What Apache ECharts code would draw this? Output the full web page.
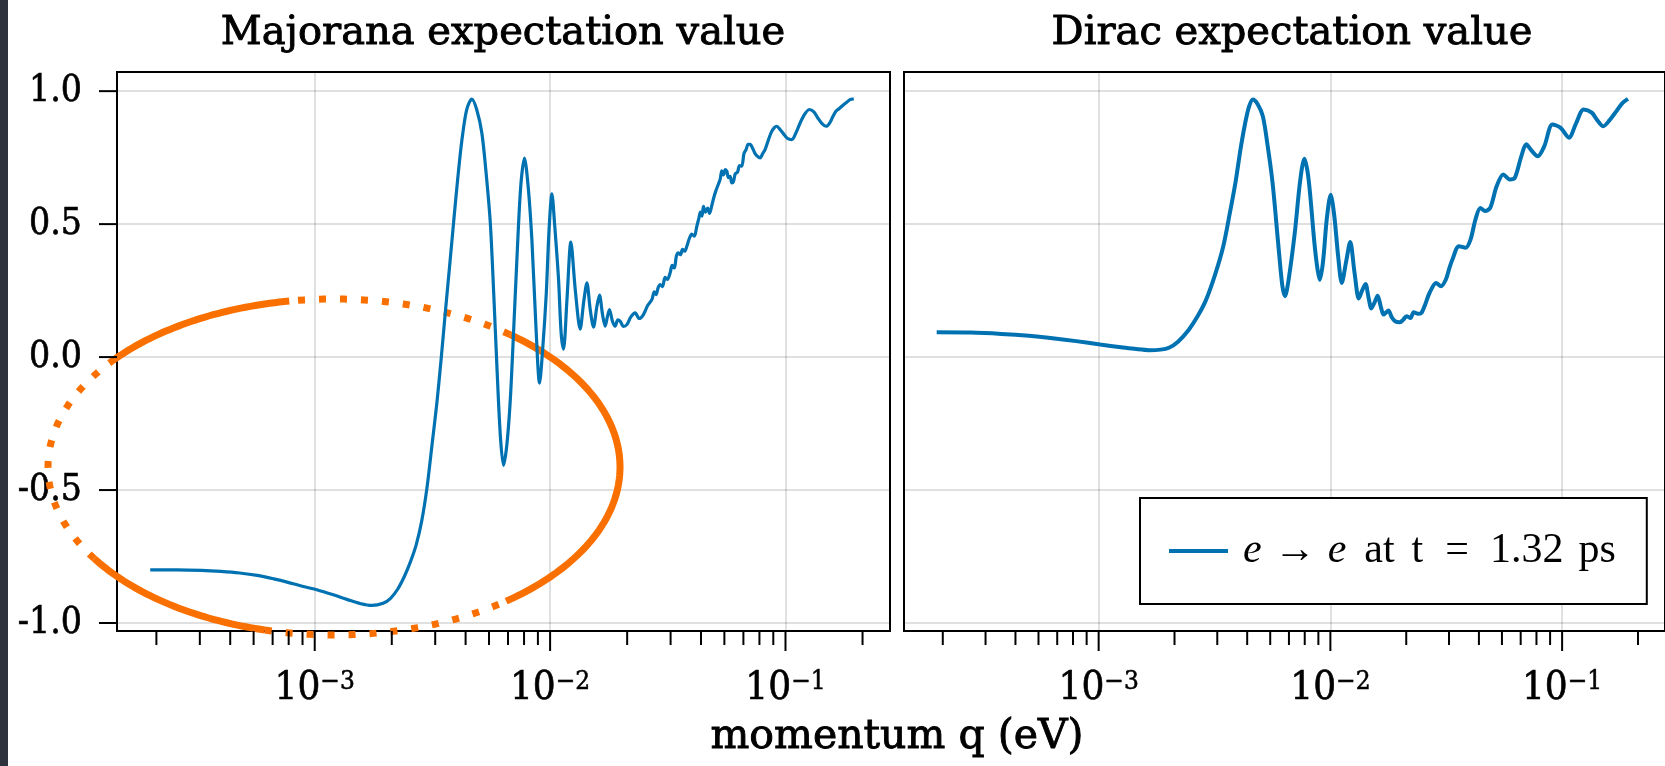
<!DOCTYPE html>
<html>
<head>
<meta charset="utf-8">
<script src="https://cdn.jsdelivr.net/npm/echarts@6/dist/echarts.min.js"></script>
<style>
html,body{margin:0;padding:0;background:#fff;}
#chart{width:1665px;height:766px;}
</style>
</head>
<body>
<div id="chart"></div>
<script>
// ---------------- data ----------------
const panelTitles = ['Majorana expectation value', 'Dirac expectation value'];
const xAxisName = 'momentum q (eV)';
const seriesName = 'e → e at t = 1.32 ps';

// Majorana expectation value (left panel)
const majQ = [2.0e-4,2.6e-4,3.3e-4,4.0e-4,4.8e-4,5.7e-4,6.7e-4,7.7e-4,8.7e-4,1.02e-3,1.20e-3,1.38e-3,1.55e-3,1.75e-3,1.95e-3,2.10e-3,2.25e-3,2.40e-3,2.55e-3,2.70e-3,2.85e-3,3.00e-3,3.15e-3,3.31e-3,3.45e-3,3.59e-3,3.74e-3,3.89e-3,4.05e-3,4.22e-3,4.42e-3,4.65e-3,4.88e-3,5.13e-3,5.35e-3,5.57e-3,5.76e-3,5.94e-3,6.15e-3,6.34e-3,6.55e-3,6.77e-3,7.0e-3,7.23e-3,7.50e-3,7.78e-3,8.07e-3,8.37e-3,8.70e-3,9.02e-3,9.30e-3,9.63e-3,9.90e-3,1.018e-2,1.045e-2,1.086e-2,1.114e-2,1.14e-2,1.18e-2,1.225e-2,1.28e-2,1.342e-2,1.39e-2,1.433e-2,1.48e-2,1.529e-2,1.58e-2,1.621e-2,1.67e-2,1.714e-2,1.75e-2,1.787e-2,1.84e-2,1.889e-2,1.94e-2,1.985e-2,2.05e-2,2.119e-2,2.20e-2,2.298e-2,2.39e-2,2.492e-2,2.6e-2,2.705e-2,2.77e-2,2.82e-2,2.88e-2,2.934e-2,3.0e-2,3.08e-2,3.15e-2,3.236e-2,3.30e-2,3.37e-2,3.44e-2,3.509e-2,3.58e-2,3.65e-2,3.73e-2,3.81e-2,3.9e-2,4.0e-2,4.1e-2,4.201e-2,4.28e-2,4.35e-2,4.42e-2,4.481e-2,4.57e-2,4.67e-2,4.76e-2,4.864e-2,4.96e-2,5.06e-2,5.16e-2,5.277e-2,5.36e-2,5.45e-2,5.55e-2,5.632e-2,5.72e-2,5.82e-2,5.91e-2,6.009e-2,6.12e-2,6.25e-2,6.38e-2,6.523e-2,6.66e-2,6.8e-2,6.94e-2,7.074e-2,7.25e-2,7.43e-2,7.6e-2,7.8e-2,8.0e-2,8.19e-2,8.45e-2,8.7e-2,8.95e-2,9.18e-2,9.5e-2,9.9e-2,1.02e-1,1.063e-1,1.11e-1,1.16e-1,1.21e-1,1.263e-1,1.32e-1,1.37e-1,1.43e-1,1.487e-1,1.54e-1,1.59e-1,1.64e-1,1.694e-1,1.76e-1,1.82e-1,1.88e-1,1.95e-1];
const majV = [-0.800,-0.800,-0.802,-0.806,-0.812,-0.821,-0.834,-0.847,-0.860,-0.875,-0.894,-0.912,-0.926,-0.934,-0.926,-0.907,-0.873,-0.826,-0.770,-0.705,-0.615,-0.490,-0.330,-0.165,0.0,0.171,0.34,0.506,0.67,0.816,0.93,0.970,0.93,0.842,0.69,0.506,0.24,-0.031,-0.30,-0.407,-0.33,-0.165,0.10,0.372,0.64,0.748,0.64,0.439,0.12,-0.098,0.03,0.238,0.48,0.614,0.50,0.292,0.09,0.03,0.22,0.432,0.25,0.105,0.21,0.279,0.18,0.113,0.19,0.233,0.16,0.116,0.15,0.179,0.135,0.116,0.14,0.135,0.115,0.122,0.15,0.166,0.145,0.160,0.195,0.216,0.245,0.235,0.262,0.273,0.265,0.30,0.292,0.317,0.345,0.335,0.38,0.392,0.385,0.405,0.398,0.417,0.445,0.462,0.455,0.492,0.52,0.545,0.53,0.567,0.545,0.56,0.54,0.57,0.60,0.625,0.645,0.668,0.70,0.685,0.705,0.699,0.675,0.68,0.655,0.660,0.69,0.695,0.72,0.718,0.765,0.78,0.80,0.800,0.785,0.765,0.755,0.749,0.765,0.78,0.815,0.845,0.862,0.868,0.855,0.835,0.822,0.818,0.845,0.885,0.915,0.931,0.922,0.90,0.878,0.868,0.88,0.905,0.925,0.935,0.948,0.958,0.968,0.971];

// Dirac expectation value (right panel)
const dirQ = [2.0e-4,2.8e-4,3.8e-4,5.0e-4,6.2e-4,8.0e-4,1.015e-3,1.25e-3,1.45e-3,1.65e-3,1.85e-3,2.01e-3,2.2e-3,2.45e-3,2.68e-3,2.91e-3,3.18e-3,3.45e-3,3.68e-3,3.90e-3,4.10e-3,4.30e-3,4.46e-3,4.63e-3,4.85e-3,5.11e-3,5.35e-3,5.63e-3,5.95e-3,6.2e-3,6.37e-3,6.6e-3,7.02e-3,7.4e-3,7.72e-3,8.05e-3,8.53e-3,8.8e-3,9.0e-3,9.3e-3,9.65e-3,1.003e-2,1.04e-2,1.08e-2,1.12e-2,1.17e-2,1.218e-2,1.27e-2,1.327e-2,1.37e-2,1.418e-2,1.46e-2,1.503e-2,1.55e-2,1.599e-2,1.65e-2,1.696e-2,1.74e-2,1.78e-2,1.84e-2,1.901e-2,1.996e-2,2.06e-2,2.132e-2,2.216e-2,2.289e-2,2.38e-2,2.469e-2,2.57e-2,2.677e-2,2.858e-2,3.002e-2,3.151e-2,3.25e-2,3.362e-2,3.589e-2,3.832e-2,4.025e-2,4.226e-2,4.437e-2,4.659e-2,4.894e-2,5.22e-2,5.573e-2,5.95e-2,6.249e-2,6.666e-2,6.998e-2,7.4e-2,7.848e-2,8.378e-2,9.087e-2,9.854e-2,1.07e-1,1.15e-1,1.239e-1,1.343e-1,1.42e-1,1.506e-1,1.6e-1,1.716e-1,1.82e-1,1.924e-1];
const dirV = [0.093,0.092,0.087,0.080,0.072,0.060,0.047,0.037,0.030,0.026,0.028,0.035,0.058,0.103,0.155,0.216,0.31,0.417,0.54,0.660,0.785,0.885,0.943,0.969,0.952,0.906,0.80,0.655,0.43,0.27,0.229,0.29,0.467,0.66,0.746,0.67,0.43,0.33,0.29,0.36,0.52,0.61,0.53,0.38,0.279,0.36,0.433,0.32,0.22,0.25,0.275,0.225,0.183,0.205,0.231,0.19,0.160,0.168,0.175,0.15,0.135,0.131,0.14,0.154,0.147,0.169,0.163,0.166,0.20,0.241,0.279,0.266,0.292,0.33,0.367,0.417,0.411,0.442,0.517,0.561,0.549,0.561,0.643,0.687,0.668,0.674,0.755,0.80,0.775,0.755,0.793,0.875,0.862,0.825,0.88,0.931,0.919,0.89,0.868,0.89,0.925,0.955,0.971];

// axis limits and ticks
const X_MIN = Math.pow(10, -3.84);
const X_MAX = Math.pow(10, -0.556);
const Y_MIN = -1.03;
const Y_MAX = 1.072;
const xMajorTicks = [1e-3, 1e-2, 1e-1];
const xMinorTicks = [2.125e-4,3.25e-4,4.375e-4,5.5e-4,6.625e-4,7.75e-4,8.875e-4,
                     2.125e-3,3.25e-3,4.375e-3,5.5e-3,6.625e-3,7.75e-3,8.875e-3,
                     2.125e-2,3.25e-2,4.375e-2,5.5e-2,6.625e-2,7.75e-2,8.875e-2,
                     2.125e-1];
const yTicks = [-1.0, -0.5, 0.0, 0.5, 1.0];

// ---------------- styling ----------------
const BLUE = '#0072B2';
const ORANGE = '#FA7000';
const GRID_GRAY = 'rgba(0,0,0,0.12)';
const SERIF = 'DejaVu Serif';
const SERIF_C = 'DejaVu Serif Condensed';
const LEG_FONT = 'Liberation Serif';

const grids = [
  {left: 117, top: 72, width: 773, height: 559},
  {left: 904, top: 72, width: 773, height: 559}
];

function pair(xs, ys) { return xs.map((x, i) => [x, ys[i]]); }

function supLabel(v) {
  const e = Math.round(Math.log10(v));
  const s = e < 0 ? '\u2212' + (-e) : String(e);
  return '{b|10}{s|' + s + '}';
}

function xAxisFor(i) {
  return {
    type: 'log', logBase: 10, gridIndex: i, min: X_MIN, max: X_MAX,
    axisLine: {show: false}, axisTick: {show: false}, minorTick: {show: false},
    splitLine: {show: true, lineStyle: {color: GRID_GRAY, width: 2}},
    axisLabel: {
      show: true, showMinLabel: false, showMaxLabel: false, margin: 38,
      formatter: supLabel,
      rich: {
        b: {fontFamily: SERIF_C, fontSize: 40, color: '#000', lineHeight: 40, textBorderColor: '#000', textBorderWidth: 0.6},
        s: {fontFamily: SERIF_C, fontSize: 26, color: '#000', lineHeight: 26, verticalAlign: 'top', textBorderColor: '#000', textBorderWidth: 0.5}
      }
    }
  };
}
function yAxisFor(i) {
  return {
    type: 'value', gridIndex: i, min: Y_MIN, max: Y_MAX,
    axisLine: {show: false}, axisTick: {show: false},
    splitLine: {show: true, lineStyle: {color: GRID_GRAY, width: 2}},
    axisLabel: {
      show: i === 0, showMinLabel: false, showMaxLabel: false, margin: 35,
      formatter: v => v.toFixed(1),
      fontFamily: SERIF_C, fontSize: 37, color: '#000', textBorderColor: '#000', textBorderWidth: 0.6
    }
  };
}

function tickSeries(i, values, dir, len) {
  return {
    type: 'custom', xAxisIndex: i, yAxisIndex: i, silent: true, clip: false, z: 6,
    data: values.map(v => dir === 'x' ? [v, 0] : [1e-2, v]),
    renderItem: (params, api) => {
      const cs = params.coordSys;
      const p = api.coord([api.value(0), api.value(1)]);
      if (dir === 'x') {
        const y0 = cs.y + cs.height;
        return {type: 'line', shape: {x1: p[0], y1: y0, x2: p[0], y2: y0 + len}, style: {stroke: '#000', lineWidth: 2}};
      }
      const x0 = cs.x;
      return {type: 'line', shape: {x1: x0 - len, y1: p[1], x2: x0, y2: p[1]}, style: {stroke: '#000', lineWidth: 2}};
    }
  };
}

// orange hand-drawn style ellipse annotation (pixel space)
const ELL = {cx: 334, cy: 467, rx: 286, ry: 168};
function arcPts(a0, a1) {
  const pts = [];
  for (let a = a0; a <= a1 + 1e-9; a += 1) {
    const t = a * Math.PI / 180;
    pts.push([ELL.cx + ELL.rx * Math.cos(t), ELL.cy - ELL.ry * Math.sin(t)]);
  }
  return pts;
}
const solidArcs = [[99, 140], [213, 256], [307, 412]];
const dottedArcs = [[140, 213], [256, 307], [52, 99]];
const ellipseEls = [];
solidArcs.forEach(a => ellipseEls.push({type: 'polyline', z: 1, silent: true, shape: {points: arcPts(a[0], a[1])}, style: {stroke: ORANGE, lineWidth: 7, fill: null, lineCap: 'butt'}}));
dottedArcs.forEach(a => ellipseEls.push({type: 'polyline', z: 1, silent: true, shape: {points: arcPts(a[0], a[1])}, style: {stroke: ORANGE, lineWidth: 7, fill: null, lineCap: 'butt', lineDash: [7, 14]}}));

const legRich = (pl, italic) => ({fontFamily: LEG_FONT, fontStyle: italic ? 'italic' : 'normal', fontSize: 42, lineHeight: 42, color: '#000', padding: [0, 0, 0, pl]});

const headStyle = (text, size) => ({text: text, fontFamily: SERIF, fontSize: size, fill: '#000', stroke: '#000', lineWidth: 0.9, align: 'center', verticalAlign: 'middle'});

const option = {
  animation: false,
  backgroundColor: '#fff',
  grid: grids.map(g => Object.assign({show: true, borderColor: '#000', borderWidth: 2, backgroundColor: 'transparent', containLabel: false}, g)),
  xAxis: [xAxisFor(0), xAxisFor(1)],
  yAxis: [yAxisFor(0), yAxisFor(1)],
  legend: {
    data: [seriesName],
    left: 1140, top: 498,
    orient: 'horizontal',
    icon: 'rect', itemWidth: 59, itemHeight: 4,
    borderColor: '#000', borderWidth: 2, borderRadius: 0,
    backgroundColor: '#fff',
    padding: [32, 31, 32, 29],
    selectedMode: false,
    formatter: () => '{e1|e}{ar|\u2192}{e2|e}{at|at}{t|t}{eq|=}{num|1.32}{ps|ps}',
    textStyle: {
      color: '#000', fontFamily: LEG_FONT, fontSize: 42, lineHeight: 42, padding: [0, 0, 0, 10],
      rich: {
        e1: legRich(0, true),
        ar: legRich(12, false),
        e2: legRich(12, true),
        at: legRich(18, false),
        t: legRich(17, false),
        eq: legRich(22, false),
        num: legRich(21, false),
        ps: legRich(15, false)
      }
    }
  },
  series: [
    {name: seriesName, type: 'line', xAxisIndex: 0, yAxisIndex: 0, data: pair(majQ, majV), showSymbol: false, smooth: 0.3,
     lineStyle: {color: BLUE, width: 3.2}, itemStyle: {color: BLUE}, z: 4},
    {name: seriesName, type: 'line', xAxisIndex: 1, yAxisIndex: 1, data: pair(dirQ, dirV), showSymbol: false, smooth: 0.3,
     lineStyle: {color: BLUE, width: 4}, itemStyle: {color: BLUE}, z: 4},
    tickSeries(0, xMajorTicks, 'x', 20),
    tickSeries(0, xMinorTicks, 'x', 14),
    tickSeries(1, xMajorTicks, 'x', 20),
    tickSeries(1, xMinorTicks, 'x', 14),
    tickSeries(0, yTicks, 'y', 18)
  ],
  graphic: [
    {type: 'rect', z: 0, silent: true, shape: {x: 0, y: 0, width: 8, height: 766}, style: {fill: '#2e323c'}},
    {type: 'text', z: 5, silent: true, x: 503, y: 34, style: headStyle(panelTitles[0], 40)},
    {type: 'text', z: 5, silent: true, x: 1292, y: 34, style: headStyle(panelTitles[1], 40)},
    {type: 'text', z: 5, silent: true, x: 897, y: 737, style: headStyle(xAxisName, 41)}
  ].concat(ellipseEls)
};

const chart = echarts.init(document.getElementById('chart'), null, {renderer: 'canvas'});
chart.setOption(option);
</script>
</body>
</html>
